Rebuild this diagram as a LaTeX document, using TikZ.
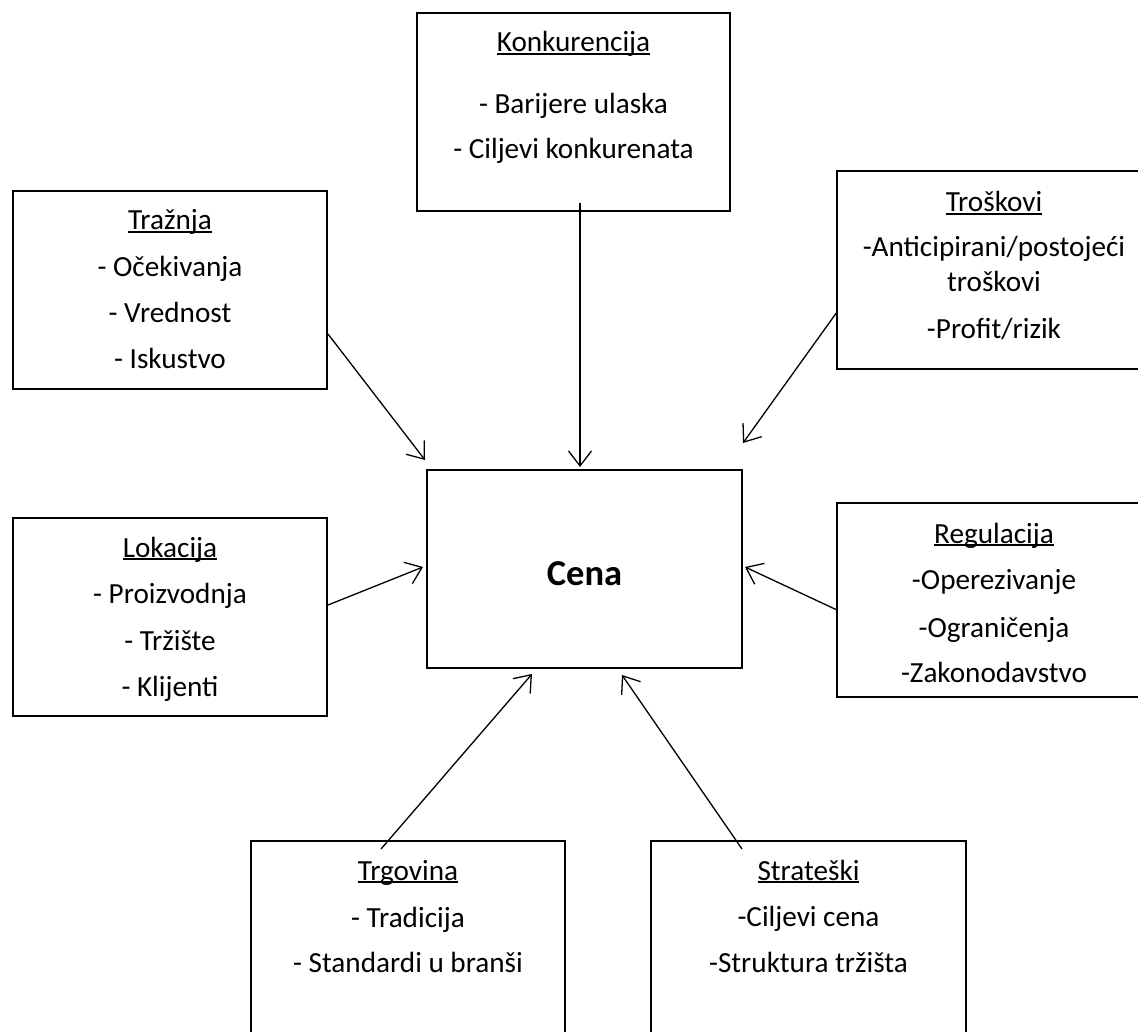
\documentclass[tikz,border=0pt]{standalone}
\usepackage{fontspec}
\setmainfont{Carlito}
\usetikzlibrary{arrows.meta,calc}

% heading underlined at a fixed distance below the baseline
\newcommand\headline[1]{\setbox0\hbox{#1}\rlap{\vrule height -1.4pt depth 3.2pt width \wd0}\box0}

\begin{document}
\begin{tikzpicture}[x=1pt,y=-1pt,
  box/.style={draw, line width=1.8pt, inner sep=0pt, outer sep=0pt, anchor=north west},
  txt/.style={anchor=base, inner sep=0pt, font=\fontsize{29.2}{34}\selectfont},
  main/.style={anchor=base, inner sep=0pt, font=\fontsize{36.5}{42}\selectfont\bfseries},
  link/.style={line width=1.3pt, -{Straight Barb[length=15pt,width=23pt,line width=1.3pt]}}]

\useasboundingbox (0,0) rectangle (1138,1032);
\fill[white] (0,0) rectangle (1138,1032);
\clip (0,0) rectangle (1138,1032);

% boxes
\node[box, minimum width=313pt, minimum height=198pt] (konk) at (417,13) {};
\node[box, minimum width=314pt, minimum height=198pt] (trz)  at (13,191) {};
\node[box, minimum width=314pt, minimum height=198pt] (tros) at (837,171) {};
\node[box, minimum width=315pt, minimum height=198pt] (cena) at (427,470) {};
\node[box, minimum width=314pt, minimum height=198pt] (lok)  at (13,518) {};
\node[box, minimum width=314pt, minimum height=194pt] (reg)  at (837,503) {};
\node[box, minimum width=314pt, minimum height=198pt] (trg)  at (251,841) {};
\node[box, minimum width=315pt, minimum height=198pt] (str)  at (651,841) {};

% texts
\node[txt] (konk-h) at (573.5,52)  {\headline{Konkurencija}};
\node[txt] (konk-a) at (573.5,114) {- Barijere ulaska};
\node[txt] (konk-b) at (573.5,159) {- Ciljevi konkurenata};

\node[txt] (trz-h) at (170,230) {\headline{Tražnja}};
\node[txt] (trz-a) at (170,277) {- Očekivanja};
\node[txt] (trz-b) at (170,323) {- Vrednost};
\node[txt] (trz-c) at (170,368) {- Iskustvo};

\node[txt] (tros-h) at (994,212) {\headline{Troškovi}};
\node[txt] (tros-a) at (994,257) {-Anticipirani/postojeći};
\node[txt] (tros-b) at (994,292) {troškovi};
\node[txt] (tros-c) at (994,338) {-Profit/rizik};

\node[main] (cena-t) at (584.5,585) {Cena};

\node[txt] (lok-h) at (170,557) {\headline{Lokacija}};
\node[txt] (lok-a) at (170,603) {- Proizvodnja};
\node[txt] (lok-b) at (170,650) {- Tržište};
\node[txt] (lok-c) at (170,696) {- Klijenti};

\node[txt] (reg-h) at (994,543) {\headline{Regulacija}};
\node[txt] (reg-a) at (994,589) {-Operezivanje};
\node[txt] (reg-b) at (994,637) {-Ograničenja};
\node[txt] (reg-c) at (994,682) {-Zakonodavstvo};

\node[txt] (trg-h) at (408,880) {\headline{Trgovina}};
\node[txt] (trg-a) at (408,927) {- Tradicija};
\node[txt] (trg-b) at (408,972) {- Standardi u branši};

\node[txt] (str-h) at (808.5,880) {\headline{Strateški}};
\node[txt] (str-a) at (808.5,926) {-Ciljevi cena};
\node[txt] (str-b) at (808.5,972) {-Struktura tržišta};

% connector ends
\coordinate (konk-o) at ($(konk.south)+(6.5,-8)$);
\coordinate (konk-i) at ($(cena.north)+(-4.5,-3)$);
\coordinate (trz-o)  at ($(trz.east)+(1,44)$);
\coordinate (trz-i)  at ($(cena.north west)+(-2,-10)$);
\coordinate (tros-o) at ($(tros.west)+(0,42)$);
\coordinate (tros-i) at ($(cena.north east)+(1,-27)$);
\coordinate (lok-o)  at ($(lok.east)+(1,-12)$);
\coordinate (lok-i)  at ($(cena.west)+(-4,-2)$);
\coordinate (reg-o)  at ($(reg.west)+(0,10)$);
\coordinate (reg-i)  at ($(cena.east)+(3,-2)$);
\coordinate (trg-o)  at ($(trg.north)+(-27,8)$);
\coordinate (trg-i)  at ($(cena.south)+(-52.5,6)$);
\coordinate (str-o)  at ($(str.north)+(-66.5,8)$);
\coordinate (str-i)  at ($(cena.south)+(37.5,7)$);

% connectors
\draw[link] (konk-o) -- (konk-i);
\draw[link] (trz-o) -- (trz-i);
\draw[link] (tros-o) -- (tros-i);
\draw[link] (lok-o) -- (lok-i);
\draw[link] (reg-o) -- (reg-i);
\draw[link] (trg-o) -- (trg-i);
\draw[link] (str-o) -- (str-i);
\end{tikzpicture}
\end{document}
